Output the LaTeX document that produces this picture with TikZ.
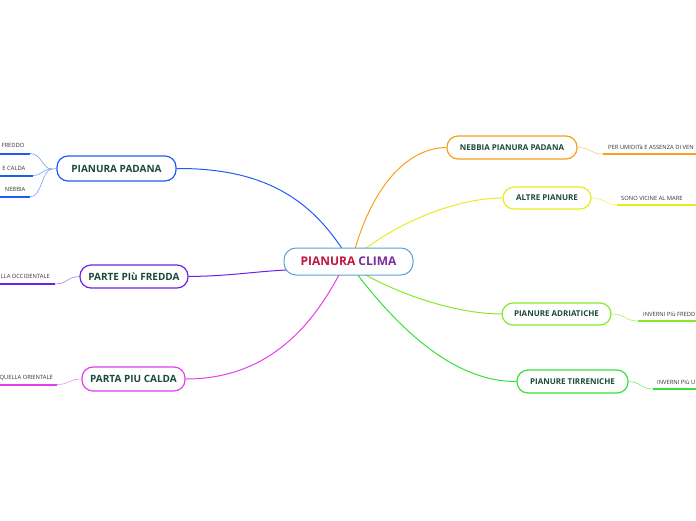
\documentclass[tikz,border=0pt]{standalone}
\usepackage{fontspec}
\setmainfont{Open Sans}
\definecolor{txtgreen}{HTML}{1B4A3C}
\definecolor{subtxt}{HTML}{333333}
\definecolor{cblue}{HTML}{1F5CF5}
\definecolor{cpurple}{HTML}{6A22E8}
\definecolor{cmagenta}{HTML}{E53EEB}
\definecolor{corange}{HTML}{F5A11A}
\definecolor{cyellow}{HTML}{E8EC1E}
\definecolor{clime}{HTML}{86E82A}
\definecolor{cgreen}{HTML}{38E03A}
\definecolor{cframe}{HTML}{5A9FD6}
\definecolor{ccrimson}{HTML}{C4153F}
\definecolor{cviolet}{HTML}{7A2C9E}
\tikzset{
  x=1pt,y=-1pt,
  topic/.style={draw, line width=1.2pt, rounded corners=11pt, fill=white, text=txtgreen,
     font=\fontsize{10}{11}\selectfont\bfseries, inner sep=0pt},
  small/.style={topic, font=\fontsize{8}{9}\selectfont\bfseries},
  central/.style={draw=cframe, line width=1pt, rounded corners=12pt, fill=white,
     minimum width=129pt, minimum height=27pt, font=\fontsize{12}{13}\selectfont\bfseries, inner sep=0pt},
  sublab/.style={text=subtxt, font=\fontsize{5.8}{7}\selectfont, inner sep=0pt},
  uline/.style={line width=2pt},
  thin/.style={line width=0.6pt},
  branch/.style={line width=1pt},
}
\begin{document}
\begin{tikzpicture}
\useasboundingbox (0,0) rectangle (696,520);
\clip (0,0) rectangle (696,520);

\coordinate (cb) at (343,250);
\coordinate (cp) at (286,270);
\coordinate (cm) at (340,273);
\coordinate (co) at (355,249);
\coordinate (cy) at (362,251);
\coordinate (cl) at (362,273);
\coordinate (cg) at (357,274);

% topics
\node[topic, draw=cblue, minimum width=119pt, minimum height=25pt] (pp) at (116.5,168.5) {PIANURA PADANA};
\node[topic, draw=cpurple, minimum width=108pt, minimum height=23pt] (pf) at (134,276.5) {PARTE PIù FREDDA};
\node[topic, draw=cmagenta, minimum width=103pt, minimum height=24pt] (pc) at (133.5,379) {PARTA PIU  CALDA};
\node[small, draw=corange, minimum width=130pt, minimum height=23pt] (nb) at (512,147.5) {NEBBIA PIANURA PADANA};
\node[small, draw=cyellow, minimum width=88pt, minimum height=22pt] (ap) at (547,198) {ALTRE PIANURE};
\node[small, draw=clime, minimum width=109pt, minimum height=22pt] (pa) at (556.5,314) {PIANURE ADRIATICHE};
\node[small, draw=cgreen, minimum width=111pt, minimum height=23pt] (pt) at (572.5,381.5) {PIANURE TIRRENICHE};

% main branches
\draw[branch, cblue] (pp.east) .. controls (265,168) and (310,200) .. (cb);
\draw[branch, cpurple] (pf.east) .. controls (230,276) and (250,272) .. (cp);
\draw[branch, cmagenta] (pc.east) .. controls (265,379) and (310,330) .. (cm);
\draw[branch, corange] (nb.west) .. controls (405,148) and (372,190) .. (co);
\draw[branch, cyellow] (ap.west) .. controls (465,198) and (410,215) .. (cy);
\draw[branch, clime] (pa.west) .. controls (465,314) and (410,300) .. (cl);
\draw[branch, cgreen] (pt.west) .. controls (455,382) and (400,330) .. (cg);

% central node on top of branches
\node[central] (c) at (348.5,261.5)
  {\textcolor{ccrimson}{PIANURA} \textcolor{cviolet}{CLIMA}};

% left subtopics of PIANURA PADANA
\coordinate (j1) at (52,169);
\coordinate (u1) at (30,153.5);
\coordinate (u2) at (33,175.5);
\coordinate (u3) at (30,197);
\draw[thin, cblue!60] (pp.west) -- (j1);
\draw[thin, cblue!60] (j1) .. controls (42,169) and (42,153.5) .. (u1);
\draw[thin, cblue!60] (j1) .. controls (42,169) and (42,175.5) .. (u2);
\draw[thin, cblue!60] (j1) .. controls (42,169) and (42,197) .. (u3);
\coordinate (z1) at (0,153.5);
\coordinate (z2) at (0,175.5);
\coordinate (z3) at (0,197);
\draw[uline, cblue] (z1) -- (u1);
\draw[uline, cblue] (z2) -- (u2);
\draw[uline, cblue] (z3) -- (u3);
\node[sublab, anchor=base east] (t1) at (24.5,147.5) {FREDDO};
\node[sublab, anchor=base east] (t2) at (25.5,170) {E CALDA};
\node[sublab, anchor=base east] (t3) at (25.5,191) {NEBBIA};

% PARTE PIU FREDDA sub
\coordinate (u4) at (55,284);
\coordinate (z4) at (0,284);
\draw[thin, cpurple!60] (pf.west) .. controls (66,277) and (68,284) .. (u4);
\draw[uline, cpurple] (z4) -- (u4);
\node[sublab, anchor=base east] (t4) at (50,278.5) {LLA OCCIDENTALE};

% PARTA PIU CALDA sub
\coordinate (u5) at (57,384.5);
\coordinate (z5) at (0,384.5);
\draw[thin, cmagenta!60] (pc.west) .. controls (68,379) and (70,384.5) .. (u5);
\draw[uline, cmagenta] (z5) -- (u5);
\node[sublab, anchor=base east] (t5) at (53,379.5) {QUELLA ORIENTALE};

% right subtopics
\coordinate (u6) at (603,154);
\coordinate (z6) at (696,154);
\draw[thin, corange!60] (nb.east) .. controls (592,148) and (590,154) .. (u6);
\draw[uline, corange] (u6) -- (z6);
\node[sublab, anchor=base west] (t6) at (608,149) {PER UMIDITà E ASSENZA DI VEN};

\coordinate (u7) at (617,205);
\coordinate (z7) at (696,205);
\draw[thin, cyellow!70] (ap.east) .. controls (605,198) and (605,205) .. (u7);
\draw[uline, cyellow] (u7) -- (z7);
\node[sublab, anchor=base west] (t7) at (621,200) {SONO VICINE AL MARE};

\coordinate (u8) at (638,321);
\coordinate (z8) at (696,321);
\draw[thin, clime!70] (pa.east) .. controls (625,314) and (625,321) .. (u8);
\draw[uline, clime] (u8) -- (z8);
\node[sublab, anchor=base west] (t8) at (643,316) {INVERNI PIù FREDD};

\coordinate (u9) at (653,389);
\coordinate (z9) at (696,389);
\draw[thin, cgreen!70] (pt.east) .. controls (641,382) and (641,389) .. (u9);
\draw[uline, cgreen] (u9) -- (z9);
\node[sublab, anchor=base west] (t9) at (657,384) {INVERNI PIù U};
\end{tikzpicture}
\end{document}
